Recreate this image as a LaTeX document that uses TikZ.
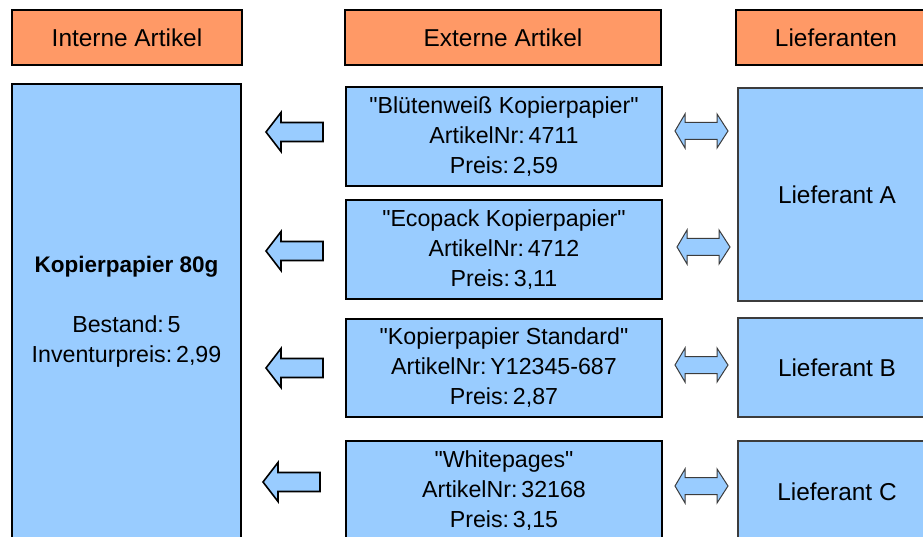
\documentclass[tikz,border=0pt]{standalone}
\usepackage{fontspec}
\setmainfont{Liberation Sans}[Ligatures=TeXOff]
\definecolor{hdrorange}{HTML}{FF9966}
\definecolor{boxblue}{HTML}{99CCFF}
\definecolor{edgegray}{HTML}{3C3C3C}
\tikzset{
  x=1pt, y=-1pt,
  txt/.style={font=\fontsize{24.4}{30}\selectfont, align=center, text=black},
  smalltxt/.style={font=\fontsize{23.2}{30}\selectfont, align=center, text=black},
  hdr/.style={txt, draw=black, line width=1.5pt, fill=hdrorange, inner sep=0pt},
  midbox/.style={smalltxt, draw=black, line width=1.5pt, fill=boxblue, inner sep=0pt},
  supbox/.style={txt, draw=edgegray, line width=1.1pt, fill=boxblue, inner sep=0pt},
  arrowfill/.style={draw=black, line width=1.6pt, fill=boxblue, line join=miter},
  dblfill/.style={draw=edgegray, line width=1pt, fill=boxblue, line join=miter},
  larrow/.pic={\path[arrowfill] (0,0) -- (15,-19.5) -- (15,-9.5) -- (57,-9.5) -- (57,9.5) -- (15,9.5) -- (15,19.5) -- cycle;},
  dblarrow/.pic={\path[dblfill] (0,0) -- (10,-17) -- (10,-8.5) -- (42,-8.5) -- (42,-17) -- (53,0) -- (42,17) -- (42,8.5) -- (10,8.5) -- (10,17) -- cycle;}
}
\begin{document}
\begin{tikzpicture}
\useasboundingbox[fill=white] (0,0) rectangle (923,537);
% headers
\node[hdr, minimum width=230pt, minimum height=55pt] (h1) at (127,37.5) {Interne Artikel};
\node[hdr, minimum width=316pt, minimum height=55pt] (h2) at (503,37.5) {Externe Artikel};
\node[hdr, minimum width=200pt, minimum height=55pt] (h3) at (836,37.5) {Lieferanten};
% internal article
\node[midbox, minimum width=229pt, minimum height=456pt] (intern) at (126.5,312)
  {{\fontsize{22.5}{30}\selectfont\bfseries Kopierpapier 80g}\\[30pt]Bestand:\,5\\Inventurpreis:\,2,99};
% external articles
\node[midbox, minimum width=316pt, minimum height=99pt] (e1) at (504,136.5)
  {"Blütenweiß Kopierpapier"\\ArtikelNr:\,4711\\Preis:\,2,59};
\node[midbox, minimum width=316pt, minimum height=99pt] (e2) at (504,249.5)
  {"Ecopack Kopierpapier"\\ArtikelNr:\,4712\\Preis:\,3,11};
\node[midbox, minimum width=316pt, minimum height=98pt] (e3) at (504,368)
  {"Kopierpapier Standard"\\ArtikelNr:\,Y12345-687\\Preis:\,2,87};
\node[midbox, minimum width=316pt, minimum height=99pt] (e4) at (504,490.5)
  {"Whitepages"\\ArtikelNr:\,32168\\Preis:\,3,15};
% suppliers
\node[supbox, minimum width=198pt, minimum height=213pt] (la) at (837,194.5) {Lieferant A};
\node[supbox, minimum width=198pt, minimum height=99pt] (lb) at (837,367.5) {Lieferant B};
\node[supbox, minimum width=198pt, minimum height=102pt] (lc) at (837,492) {Lieferant C};
% left arrows
\pic at (266,132) {larrow};
\pic at (266,251) {larrow};
\pic at (266,368) {larrow};
\pic at (263,482) {larrow};
% double arrows
\pic at (675,131) {dblarrow};
\pic at (677,247) {dblarrow};
\pic at (675,365) {dblarrow};
\pic at (675,486) {dblarrow};
\end{tikzpicture}
\end{document}
